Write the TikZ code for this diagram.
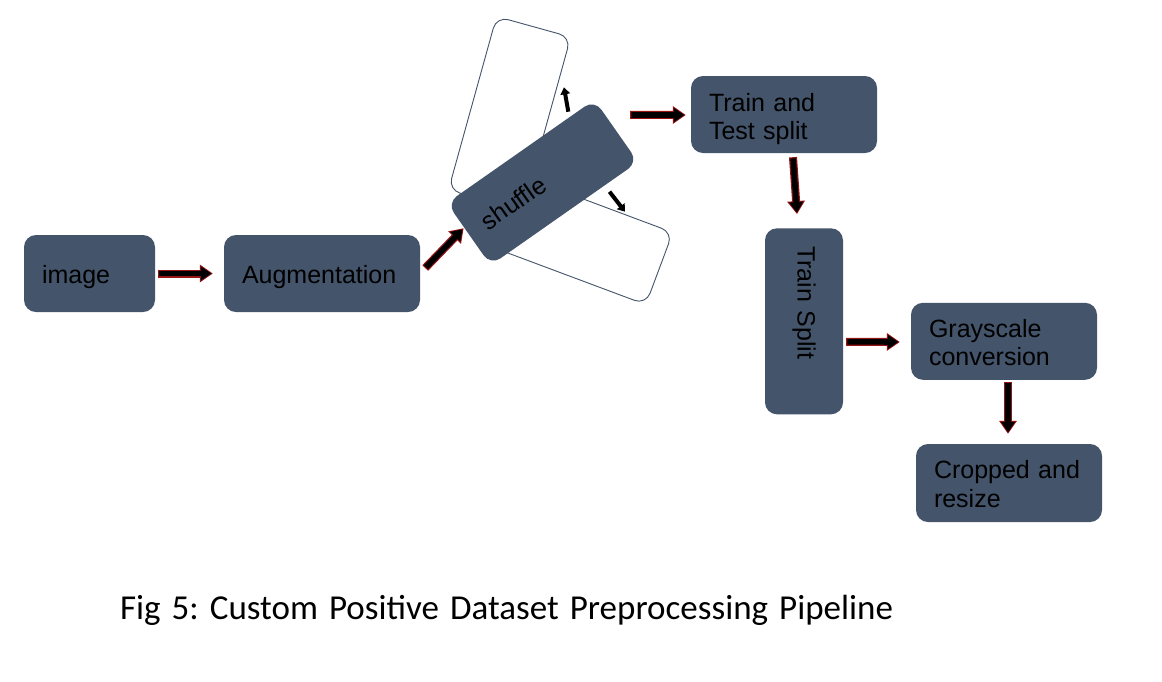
\documentclass[tikz,border=0pt]{standalone}
\usepackage{fontspec}
\setmainfont{Liberation Sans}
\newfontfamily\capfont{Carlito}
\usetikzlibrary{arrows.meta,calc}
\definecolor{boxfill}{HTML}{44546A}
\definecolor{arrred}{RGB}{150,20,20}
\newcommand\bkarrow[2]{%
  \draw[arrred,line width=8pt,-{Triangle[length=13pt,width=17pt]}] #1 -- #2;
  \draw[black,line width=5.6pt,shorten <=1.2pt,shorten >=1.5pt,-{Triangle[length=10.5pt,width=13.4pt]}] #1 -- #2;}
\newcommand\topgap[1]{\rule{0pt}{#1}}
\tikzset{
  pbox/.style={draw=none, fill=boxfill, rounded corners=12pt, minimum height=77pt,
    inner xsep=18pt, inner ysep=0pt, align=left, text=black,
    font=\fontsize{25}{28.5}\selectfont},
  ghost/.style={draw=boxfill, fill=white, line width=0.9pt, rounded corners=12pt, inner sep=0pt},
  smallarr/.style={black, line width=4pt, -{Triangle[length=7pt,width=9.5pt]}},
}
\begin{document}
\begin{tikzpicture}[x=1pt,y=-1pt]
\fill[white] (0,0) rectangle (1162,681);
\useasboundingbox (0,0) rectangle (1162,681);

% ghost boxes of the shuffle step
\node[ghost, minimum width=180pt, minimum height=77pt, rotate=-20.5] (ghostb) at (575,237) {};
\node[ghost, minimum width=77pt, minimum height=180pt, rotate=-15.5] (ghosta) at (509.6,113.5) {};

% main boxes
\node[pbox, text width=95pt] (img) at (89.5,273.5) {\topgap{26pt}image};
\node[pbox, text width=160pt] (aug) at (322,273.5) {\topgap{26pt}Augmentation};
\node[pbox, text width=144pt, minimum height=76pt, rotate=35] (shuf) at (542.5,182.5) {shuffle};
\node[pbox, text width=150pt] (tts) at (784,114.5) {\topgap{27pt}Train and\\Test split};
\node[pbox, text width=150pt, minimum height=78pt, rotate=-90] (ts) at (804,321.3) {Train Split};
\node[pbox, text width=150pt] (gray) at (1004,341.3) {\topgap{20.5pt}Grayscale\\conversion};
\node[pbox, text width=150pt, minimum height=78pt] (crop) at (1009,483) {\topgap{20.5pt}Cropped and\\resize};

% small arrows from shuffle to its ghosts
\coordinate (upt) at ($(shuf.center)+(25.8,-70.8)$);
\coordinate (uph) at ($(shuf.center)+(21.5,-95.2)$);
\coordinate (dnt) at ($(shuf.center)+(67,9.2)$);
\coordinate (dnh) at ($(shuf.center)+(82.5,29.2)$);
\draw[smallarr] (upt) -- (uph);
\draw[smallarr] (dnt) -- (dnh);

% connectors
\coordinate (a1s) at ($(img.east)+(3,0)$);
\coordinate (a1e) at ($(aug.west)+(-11,0)$);
\bkarrow{(a1s)}{(a1e)}
\coordinate (a2s) at ($(aug.east)+(5,-5.5)$);
\coordinate (a2e) at ($(shuf.west)+(-5,-6)$);
\bkarrow{(a2s)}{(a2e)}
\coordinate (a3s) at ($(shuf.east)+(13.8,-15.8)$);
\coordinate (a3e) at ($(tts.west)+(-5,0.5)$);
\bkarrow{(a3s)}{(a3e)}
\coordinate (a4s) at ($(tts.south)+(9,4)$);
\coordinate (a4e) at ($(ts.west)+(-7,-14)$);
\bkarrow{(a4s)}{(a4e)}
\coordinate (a5s) at ($(ts.north)+(3,20.5)$);
\coordinate (a5e) at ($(gray.west)+(-11,0.7)$);
\bkarrow{(a5s)}{(a5e)}
\coordinate (a6s) at ($(gray.south)+(4,2)$);
\coordinate (a6e) at ($(crop.north)+(-1,-10)$);
\bkarrow{(a6s)}{(a6e)}

% caption
\node[font=\capfont\fontsize{35}{40}\selectfont, anchor=base, inner sep=0pt] (cap) at (506.5,619) {\frenchspacing\makebox[773pt][s]{Fig 5: Custom Positive Dataset Preprocessing Pipeline}};
\end{tikzpicture}
\end{document}
